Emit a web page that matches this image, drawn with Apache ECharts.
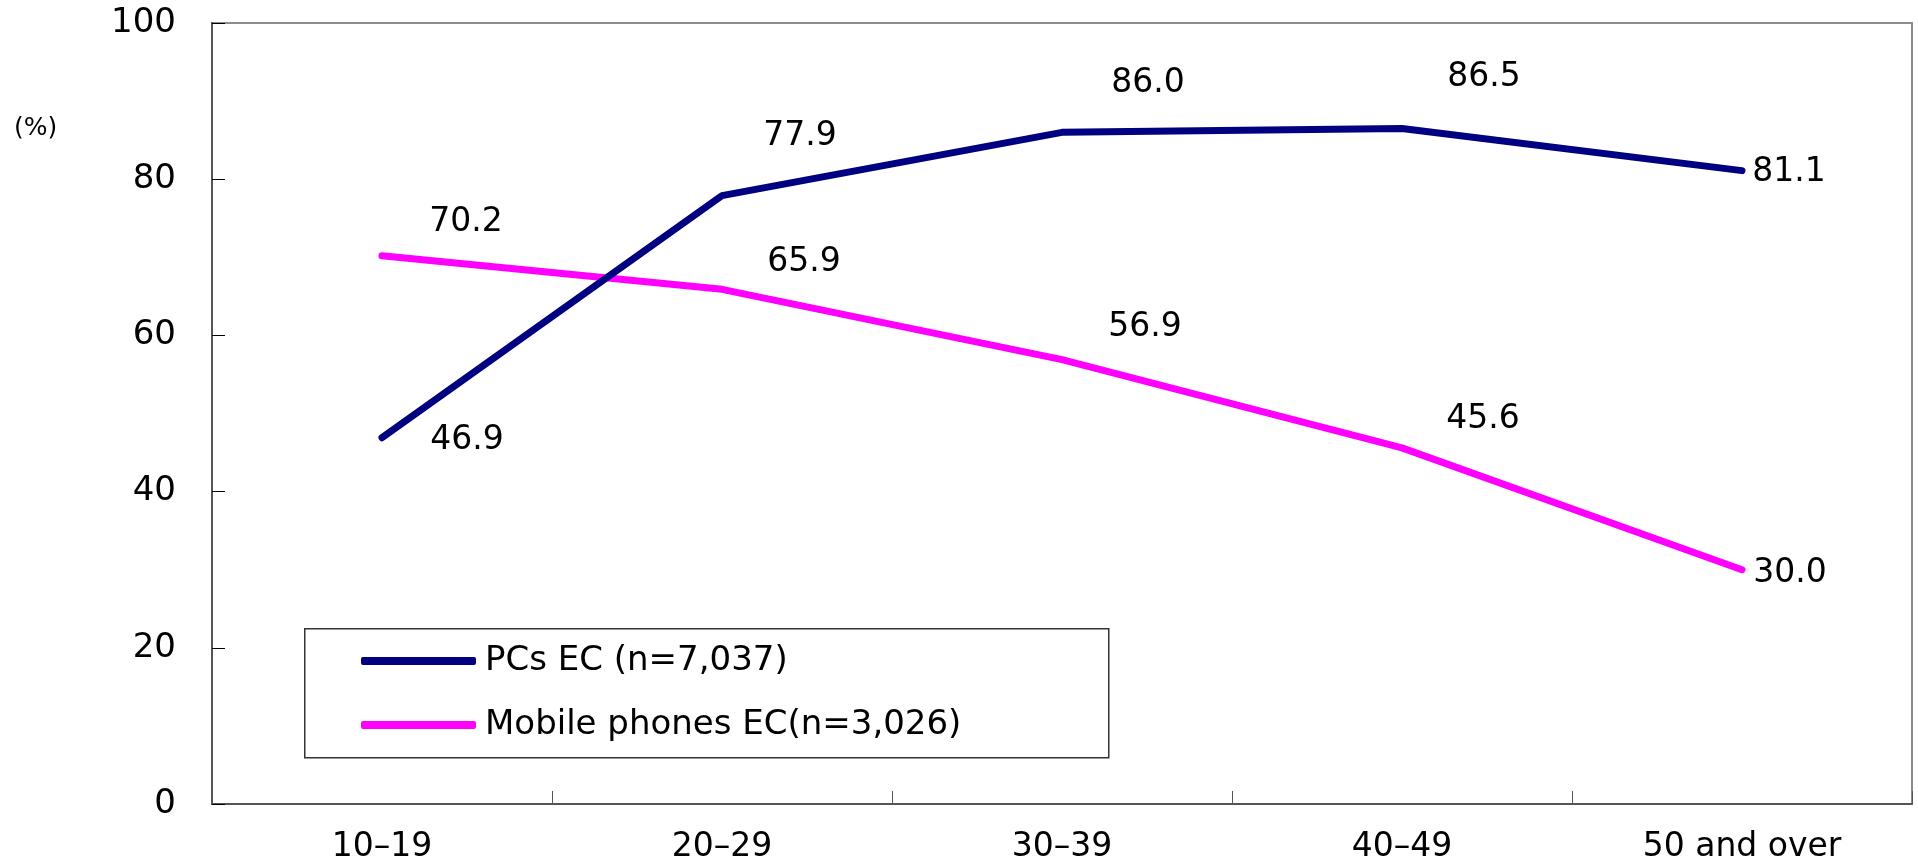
<!DOCTYPE html>
<html>
<head>
<meta charset="utf-8">
<script src="https://cdn.jsdelivr.net/npm/echarts@6/dist/echarts.min.js"></script>
<style>
html,body{margin:0;padding:0;background:#fff;}
#chart{width:1918px;height:864px;}
</style>
</head>
<body>
<div id="chart"></div>
<script>
const categories = ['10\u201319', '20\u201329', '30\u201339', '40\u201349', '50 and over'];
const pcValues = [46.9, 77.9, 86.0, 86.5, 81.1];
const mobileValues = [70.2, 65.9, 56.9, 45.6, 30.0];
const seriesNames = ['PCs EC (n=7,037)', 'Mobile phones EC(n=3,026)'];
const yTicks = [0, 20, 40, 60, 80, 100];

// label offsets (style, px) relative to each point
const pcLabelOffsets = [[85, 3], [78, -59], [86, -49], [82, -51], [47, 2]];
const mobileLabelOffsets = [[84, -33], [82, -27], [83, -32], [81, -28], [48, 4]];

const FONT = 'DejaVu Sans';

function withLabels(values, offsets) {
  return values.map((v, i) => ({
    value: v,
    label: { offset: offsets[i] }
  }));
}

const chart = echarts.init(document.getElementById('chart'));
chart.setOption({
  backgroundColor: '#ffffff',
  animation: false,
  textStyle: { fontFamily: FONT },
  grid: {
    left: 212, right: 6, top: 23, bottom: 60,
    show: true, borderColor: '#8c8c8c', borderWidth: 2, backgroundColor: 'transparent'
  },
  legend: {
    orient: 'vertical',
    left: 361, top: 641,
    icon: 'roundRect',
    itemWidth: 115, itemHeight: 8,
    itemGap: 24,
    padding: 0,
    textStyle: { fontFamily: FONT, fontSize: 34, color: '#000', lineHeight: 40, padding: [0, 0, 0, 4] },
    data: seriesNames
  },
  graphic: [
    {
      type: 'rect', left: 304, top: 628, z: 0,
      shape: { width: 804, height: 129 },
      style: { fill: '#fff', stroke: '#333', lineWidth: 1.5 }
    },
    {
      type: 'text', left: 14, top: 116,
      style: { text: '(%)', font: '25px "DejaVu Sans"', fill: '#000' }
    }
  ],
  xAxis: {
    type: 'category',
    data: categories,
    boundaryGap: true,
    axisLine: { show: true, lineStyle: { color: '#555', width: 2 } },
    axisTick: { show: true, inside: true, length: 13, alignWithLabel: false, lineStyle: { color: '#555', width: 1 } },
    axisLabel: { fontFamily: FONT, fontSize: 33, color: '#000', margin: 27 },
    splitLine: { show: false }
  },
  yAxis: {
    type: 'value',
    min: 0, max: 100, interval: 20,
    axisLine: { show: true, lineStyle: { color: '#555', width: 2 } },
    axisTick: { show: true, inside: true, length: 13, lineStyle: { color: '#000', width: 1 } },
    axisLabel: {
      fontFamily: FONT, fontSize: 34, color: '#000', margin: 36,
      formatter: v => yTicks.includes(v) ? String(v) : ''
    },
    splitLine: { show: false }
  },
  series: [
    {
      name: seriesNames[0],
      type: 'line',
      data: withLabels(pcValues, pcLabelOffsets),
      showSymbol: true,
      symbol: 'circle',
      symbolSize: 0,
      z: 3,
      itemStyle: { color: '#000080' },
      lineStyle: { color: '#000080', width: 7, cap: 'round', join: 'round' },
      label: {
        show: true, position: 'inside', fontFamily: FONT, fontSize: 33, color: '#000',
        formatter: p => p.value.toFixed(1)
      }
    },
    {
      name: seriesNames[1],
      type: 'line',
      data: withLabels(mobileValues, mobileLabelOffsets),
      showSymbol: true,
      symbol: 'circle',
      symbolSize: 0,
      z: 2,
      itemStyle: { color: '#ff00ff' },
      lineStyle: { color: '#ff00ff', width: 7, cap: 'round', join: 'round' },
      label: {
        show: true, position: 'inside', fontFamily: FONT, fontSize: 33, color: '#000',
        formatter: p => p.value.toFixed(1)
      }
    }
  ]
});
</script>
</body>
</html>
